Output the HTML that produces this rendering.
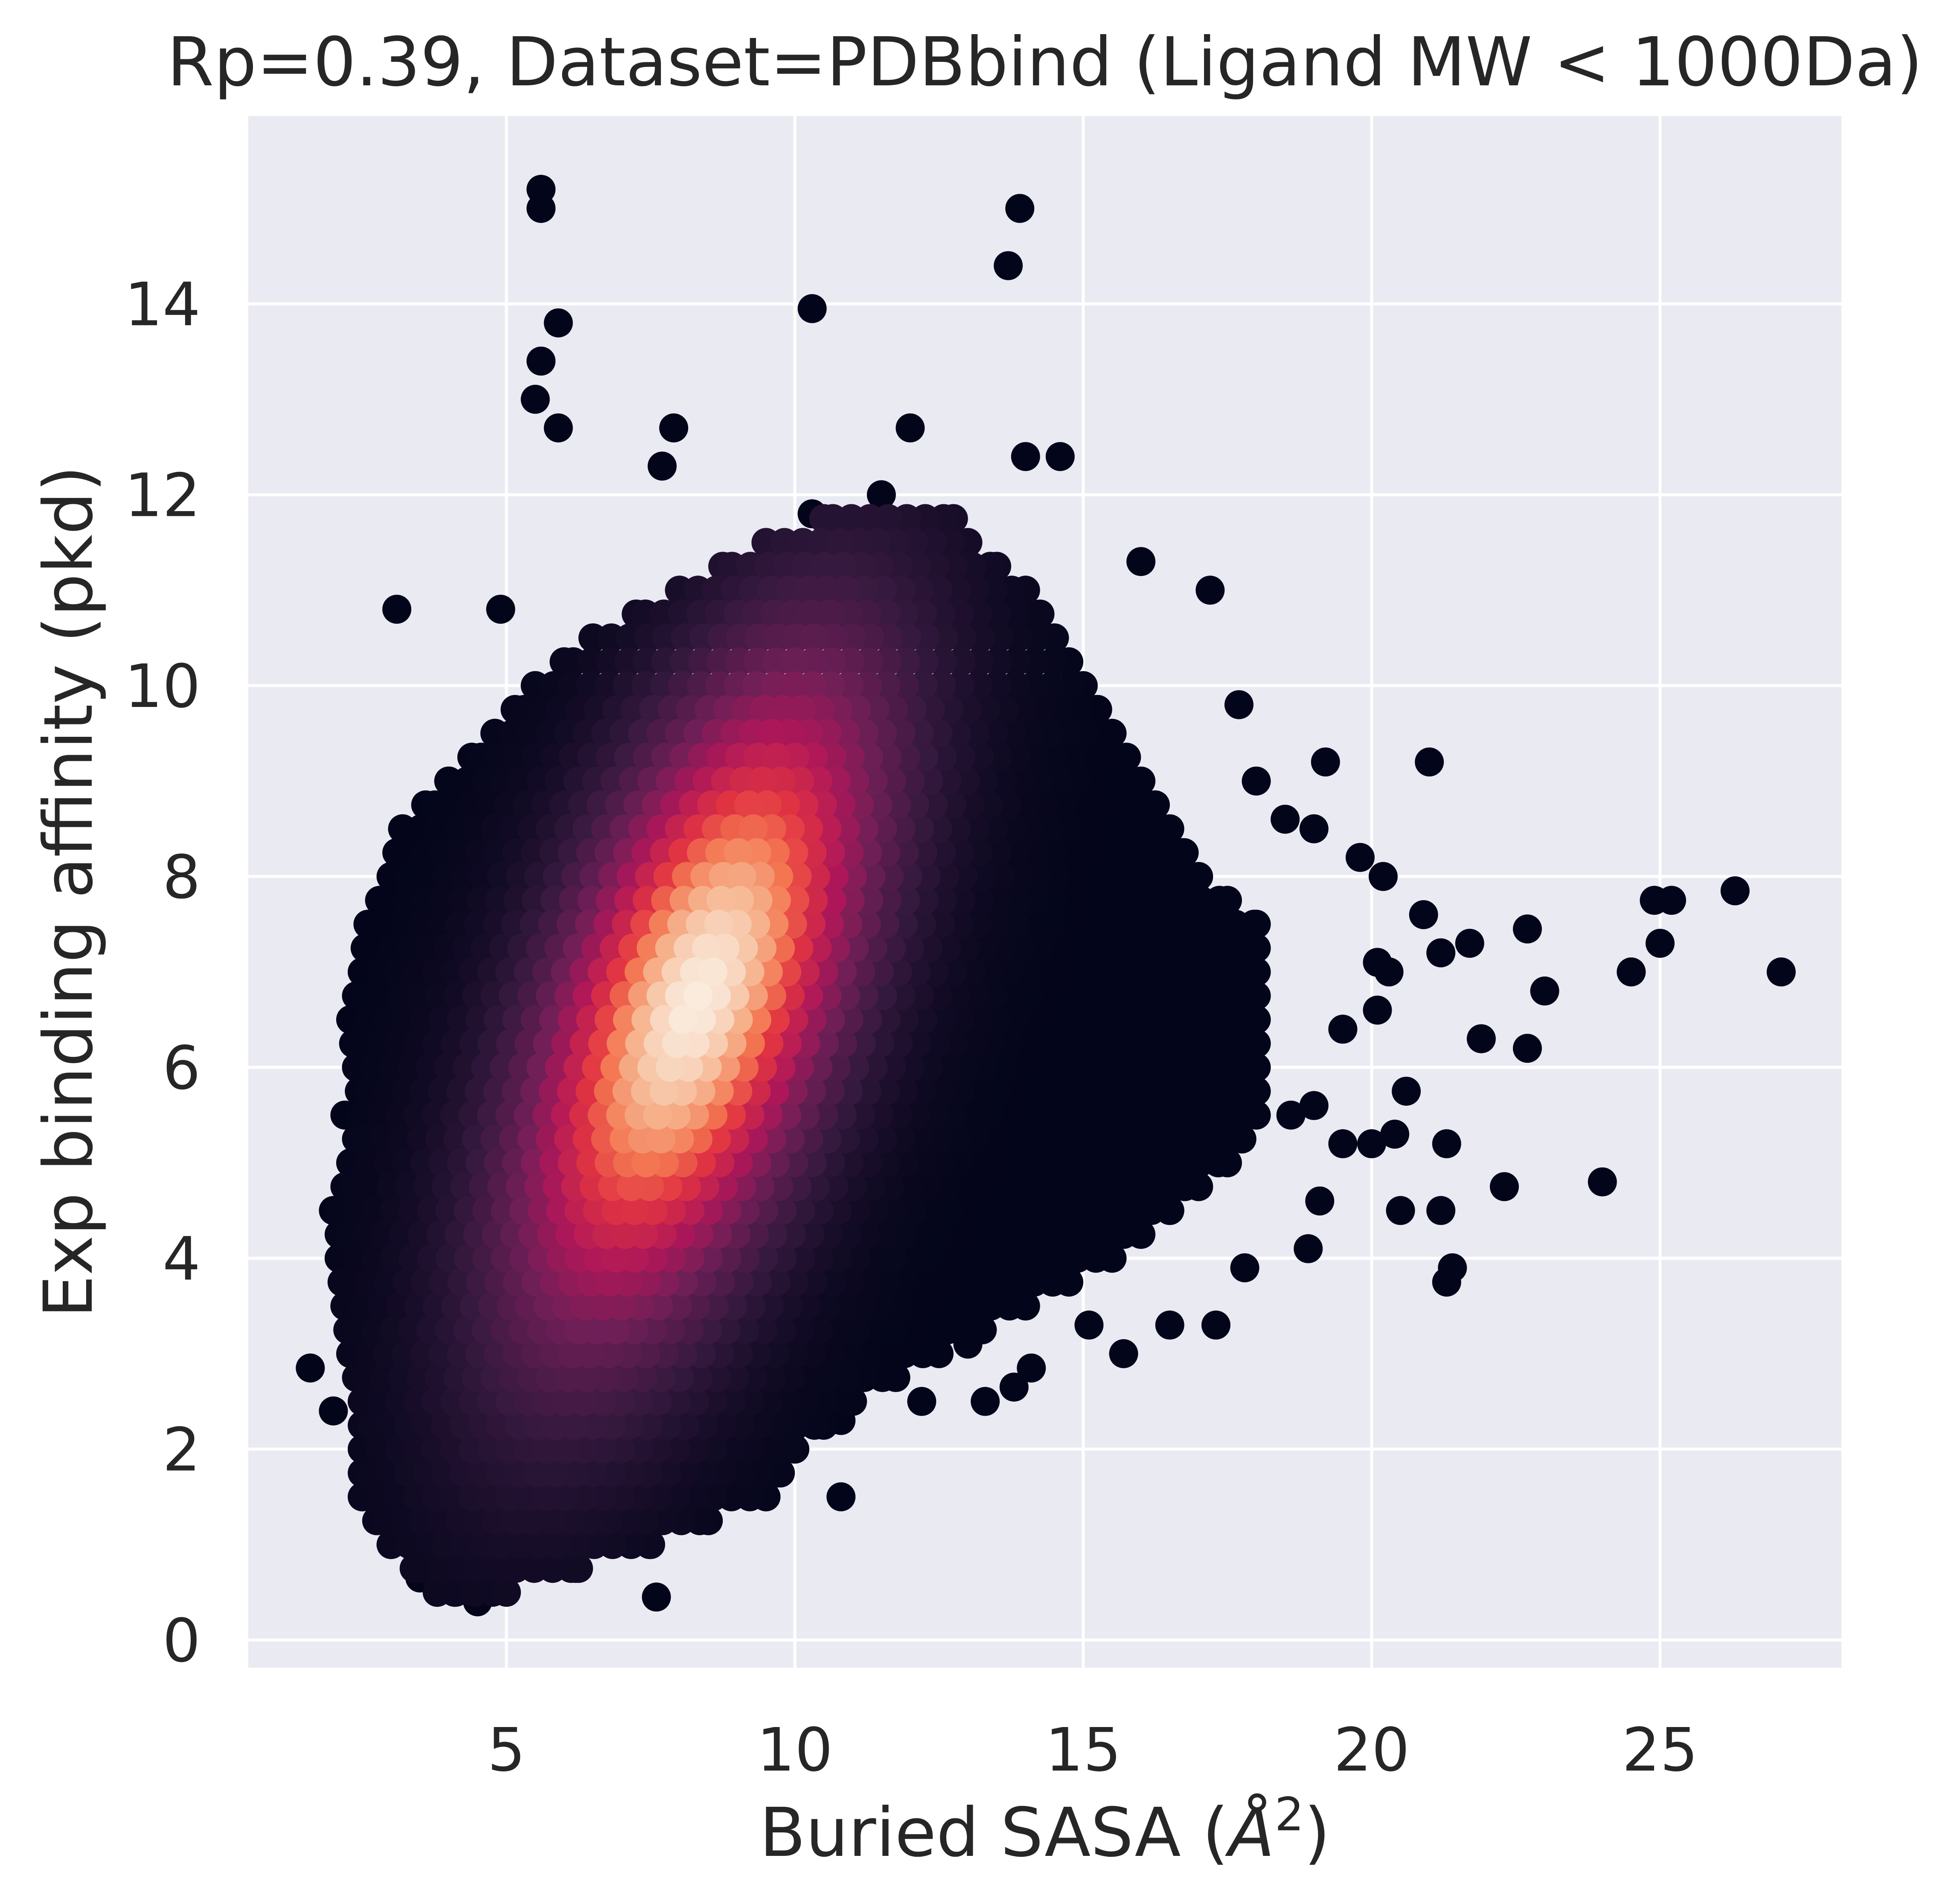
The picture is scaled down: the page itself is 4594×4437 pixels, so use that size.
<!DOCTYPE html>
<html><head><meta charset="utf-8"><style>
html,body{margin:0;padding:0;background:#fff}
svg{display:block}
text{font-family:"DejaVu Sans","Liberation Sans",sans-serif;fill:#262626}
</style></head><body>
<svg id="chart" width="4594" height="4437" viewBox="0 0 4594 4437" xmlns="http://www.w3.org/2000/svg">
<rect x="582" y="272" width="3734" height="3637" fill="#EAEAF2"/>
<g id="grid"></g>
<defs><clipPath id="clip"><rect x="582" y="272" width="3734" height="3637"/></clipPath></defs>
<g id="points" clip-path="url(#clip)"></g>
<g id="ticks"></g>
<text x="2449" y="200" font-size="158" text-anchor="middle">Rp=0.39, Dataset=PDBbind (Ligand MW &lt; 1000Da)</text>
<text x="2449" y="4350" font-size="158" text-anchor="middle">Buried SASA (<tspan font-style="italic">Å</tspan><tspan font-size="108" dy="-60">2</tspan><tspan dy="60">)</tspan></text>
<text x="215" y="2090" font-size="158" text-anchor="middle" transform="rotate(-90 215 2090)">Exp binding affinity (pkd)</text>
</svg>
<script>
const xTicks=[5,10,15,20,25];
const yTicks=[0,2,4,6,8,10,12,14];
// cloud boundary per row
const rowY=[0.5,1,1.5,2,2.5,3,3.5,4,4.5,5,5.5,6,6.5,7,7.5,8,8.5,9,9.5,10,10.5,11,11.5,12];
const rowXmin=[3.8,3,2.5,2.5,2.5,2.3,2.2,2.1,2.1,2.3,2.5,2.4,2.3,2.5,2.6,3,3.2,4,4.8,5.5,6.5,8,9.5,11.5];
const rowXmax=[5,7.5,9.5,10,11,12.5,14,15.5,16.5,17.5,18,18,18,18,18,17,16.5,16,15.5,15,14.5,14,13,12.5];
// density core
const coreCenter=[8.3,6.7];
const coreSigma=[3.0,1.5];
const coreAngleDeg=[52];
// outlier points
const outX=[1.6,2.0,2.0,2.2,5.6,5.6,13.9,13.7,10.3,5.9,5.6,5.5,5.9,7.9,3.1,4.9,17.2,16.0,19.2,21.0,17.7,26.3,27.1,25.2,24.9,25.0,24.5,22.7,23.0,22.7,21.9,21.7,21.2,20.9,20.1,20.3,20.1,19.5,20.2,19.8,20.6,20.4,21.3,22.3,24.0,21.2,20.5,21.3,21.4,19.1,18.9,17.3,15.7,14.1,13.8,13.3,10.8,9.5,7.6,4.5,4.1,3.5,6.2,10.3,7.7,12.0,14.0,14.6,18.0,19.0,18.5,19.5,20.0,18.6,19.0,17.8,16.5,15.1,13.0,12.2,10.8,8.9,10.5];
const outY=[2.85,2.4,4.5,5.5,15.2,15.0,15.0,14.4,13.95,13.8,13.4,13.0,12.7,12.7,10.8,10.8,11.0,11.3,9.2,9.2,9.8,7.85,7.0,7.75,7.75,7.3,7.0,7.45,6.8,6.2,6.3,7.3,7.2,7.6,7.1,7.0,6.6,6.4,8.0,8.2,5.75,5.3,5.2,4.75,4.8,4.5,4.5,3.75,3.9,4.6,4.1,3.3,3.0,2.85,2.65,2.5,1.5,1.5,0.45,0.4,0.5,0.65,0.75,11.8,12.3,12.7,12.4,12.4,9.0,8.5,8.6,5.2,5.2,5.5,5.6,3.9,3.3,3.3,3.1,2.5,2.3,1.8,2.4];

const NS="http://www.w3.org/2000/svg";
const X=v=>1187+(v-5)*135.2;
const Y=v=>3844-v*223.7;
function mk(tag,attrs,parent){const e=document.createElementNS(NS,tag);for(const k in attrs)e.setAttribute(k,attrs[k]);parent.appendChild(e);return e;}
const grid=document.getElementById('grid'),ticks=document.getElementById('ticks'),pts=document.getElementById('points');
xTicks.forEach(t=>{
  const l=mk('line',{x1:X(t),x2:X(t),y1:272,y2:3909,stroke:'#fff','stroke-width':7},grid);
  
  
  const tx=mk('text',{x:X(t),y:4150,'font-size':140,'text-anchor':'middle'},ticks);tx.textContent=t;
  
  
});
yTicks.forEach(t=>{
  const l=mk('line',{x1:582,x2:4316,y1:Y(t),y2:Y(t),stroke:'#fff','stroke-width':7},grid);
  
  
  const tx=mk('text',{x:470,y:Y(t)+50,'font-size':140,'text-anchor':'end'},ticks);tx.textContent=t;
  
  
});
const stops=[[0,[3,5,26]],[0.2,[53,25,62]],[0.4,[112,31,87]],[0.55,[174,23,89]],[0.7,[225,51,66]],[0.8,[243,118,81]],[0.9,[246,180,142]],[1,[250,235,221]]];
function cmap(d){d=Math.max(0,Math.min(1,d));for(let i=1;i<stops.length;i++){if(d<=stops[i][0]){const a=stops[i-1],b=stops[i],t=(d-a[0])/(b[0]-a[0]);return 'rgb('+a[1].map((c,j)=>Math.round(c+(b[1][j]-c)*t)).join(',')+')';}}return 'rgb(250,235,221)';}
const ang=coreAngleDeg[0]*Math.PI/180;
function dens(x,y){const dx=x-coreCenter[0],dy=y-coreCenter[1];const u=dx*Math.cos(ang)+dy*Math.sin(ang),v=-dx*Math.sin(ang)+dy*Math.cos(ang);return Math.exp(-0.5*(u*u/(coreSigma[0]*coreSigma[0])+v*v/(coreSigma[1]*coreSigma[1])));}
const all=[];
for(let i=0;i<outX.length;i++)all.push([outX[i],outY[i],0]);
let row=0;
for(let i=0;i<rowY.length-1;i++){
  for(let s=0;s<2;s++){
    const t=s/2,y=rowY[i]+(rowY[i+1]-rowY[i])*t;
    const x0=rowXmin[i]+(rowXmin[i+1]-rowXmin[i])*t,x1=rowXmax[i]+(rowXmax[i+1]-rowXmax[i])*t;
    const off=(row%2)*0.16;row++;
    all.push([x0,y,dens(x0,y)]);
    for(let x=x0+off;x<=x1+1e-6;x+=0.32)all.push([x,y,dens(x,y)]);
    all.push([x1,y,dens(x1,y)]);
  }
}
all.push([rowXmin[rowY.length-1],rowY[rowY.length-1],0]);
all.sort((a,b)=>a[2]-b[2]);
all.forEach(p=>{
  const c=mk('circle',{cx:X(p[0]).toFixed(1),cy:Y(p[1]).toFixed(1),r:34,fill:cmap(p[2])},pts);
  
  
});
</script>
</body></html>
